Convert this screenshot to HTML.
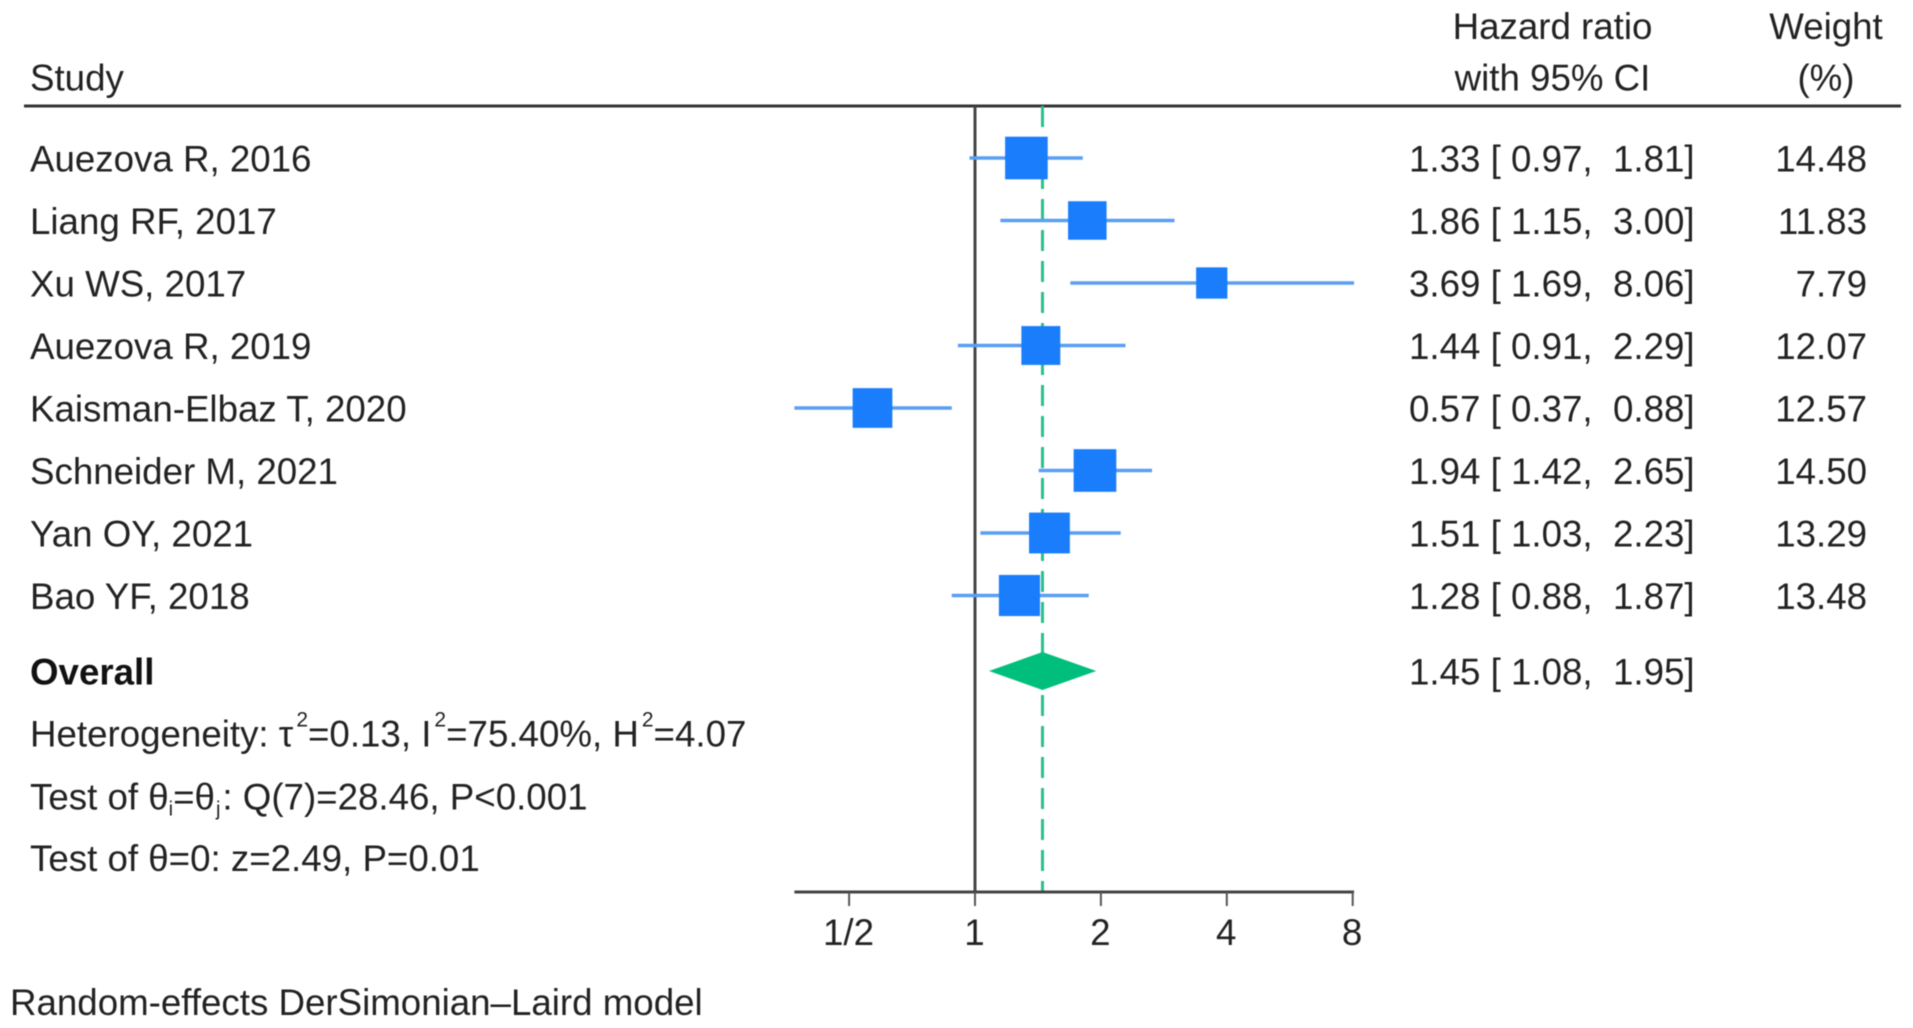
<!DOCTYPE html>
<html lang="en">
<head>
<meta charset="utf-8">
<title>Forest plot of hazard ratios</title>
<style>
  html, body { margin: 0; padding: 0; background: #fff; }
  svg { display: block; filter: blur(0.55px); }
  text { font-family: "Liberation Sans", sans-serif; font-size: 36.7px; fill: #222; white-space: pre; }
</style>
</head>
<body>
<svg id="plot" xmlns="http://www.w3.org/2000/svg" width="1913" height="1028" viewBox="0 0 1913 1028">
  <rect x="0" y="0" width="1913" height="1028" fill="#ffffff"/>
  <text x="30" y="90.5">Study</text>
  <text x="1552.5" y="39" text-anchor="middle">Hazard ratio</text>
  <text x="1552.5" y="90.5" text-anchor="middle">with 95% CI</text>
  <text x="1826" y="39" text-anchor="middle">Weight</text>
  <text x="1826" y="90.5" text-anchor="middle">(%)</text>
  <line x1="24" x2="1901" y1="106" y2="106" stroke="#333" stroke-width="3"/>
  <text x="30" y="684.5" font-weight="700" style="font-weight:700;fill:#111">Overall</text>
  <text x="30" y="746.5">Heterogeneity: τ<tspan font-size="21" dx="3" dy="-20">2</tspan><tspan dy="20">=0.13, I</tspan><tspan font-size="21" dx="3" dy="-20">2</tspan><tspan dy="20">=75.40%, H</tspan><tspan font-size="21" dx="3" dy="-20">2</tspan><tspan dy="20">=4.07</tspan></text>
  <text x="30" y="809.5">Test of θ<tspan font-size="20" dy="6">i</tspan><tspan dy="-6">=θ</tspan><tspan font-size="20" dy="6" dx="1">j</tspan><tspan dy="-6" dx="2">: Q(7)=28.46, P&lt;0.001</tspan></text>
  <text x="30" y="871">Test of θ=0: z=2.49, P=0.01</text>
  <text x="10" y="1015">Random-effects DerSimonian–Laird model</text>
  <g id="marks"></g>
</svg>
<script>
const studies = ["Auezova R, 2016", "Liang RF, 2017", "Xu WS, 2017", "Auezova R, 2019", "Kaisman-Elbaz T, 2020", "Schneider M, 2021", "Yan OY, 2021", "Bao YF, 2018"];
const hazardRatios = [1.33, 1.86, 3.69, 1.44, 0.57, 1.94, 1.51, 1.28];
const ciLower = [0.97, 1.15, 1.69, 0.91, 0.37, 1.42, 1.03, 0.88];
const ciUpper = [1.81, 3.00, 8.06, 2.29, 0.88, 2.65, 2.23, 1.87];
const weights = [14.48, 11.83, 7.79, 12.07, 12.57, 14.50, 13.29, 13.48];
const overallEstimate = [1.45];
const overallLower = [1.08];
const overallUpper = [1.95];
const tickValues = [0.5, 1, 2, 4, 8];
const tickLabels = ["1/2", "1", "2", "4", "8"];

const SVG_NS = "http://www.w3.org/2000/svg";
const marks = document.getElementById("marks");
const xScale = v => 975 + Math.log2(v) * 125.9;
const rowY = i => 158 + i * 62.5;
const overallY = 671;
const plotTop = 106;
const axisY = 892;

function make(tag, attrs, text) {
  const node = document.createElementNS(SVG_NS, tag);
  for (const k in attrs) node.setAttribute(k, attrs[k]);
  if (text !== undefined) node.textContent = text;
  marks.appendChild(node);
  return node;
}
const fmt = (v, d) => v.toFixed(d);
const hrText = (e, l, u) => fmt(e, 2) + " [ " + fmt(l, 2) + ",  " + fmt(u, 2) + "]";

const nullLine = make("line", { x1: xScale(1), x2: xScale(1), y1: plotTop, y2: axisY, stroke: "#444", "stroke-width": 3 });



const overallLine = make("line", { x1: xScale(overallEstimate[0]), x2: xScale(overallEstimate[0]), y1: plotTop, y2: axisY, stroke: "#2cbf8a", "stroke-width": 3, "stroke-dasharray": "21 10" });



studies.forEach((name, i) => {
  const y = rowY(i);
  const label = make("text", { x: 30, y: y + 13.7 }, name);
  
  

  const ci = make("line", { x1: xScale(ciLower[i]), x2: xScale(ciUpper[i]), y1: y, y2: y, stroke: "#5a9ff2", "stroke-width": 3.6 });
  
  

  const size = Math.sqrt(weights[i]) * 11.2;
  const box = make("rect", { x: xScale(hazardRatios[i]) - size / 2 - 0.4, y: y - size / 2, width: size, height: size, fill: "#1a7dfb" });
  
  

  const hr = make("text", { x: 1409, y: y + 13.7 }, hrText(hazardRatios[i], ciLower[i], ciUpper[i]));
  
  

  const wt = make("text", { x: 1867, y: y + 13.7, "text-anchor": "end" }, fmt(weights[i], 2));
  
  
});

const diamondPoints = [
  [xScale(overallLower[0]), overallY],
  [xScale(overallEstimate[0]), overallY - 19],
  [xScale(overallUpper[0]), overallY],
  [xScale(overallEstimate[0]), overallY + 19]
].map(p => p.join(",")).join(" ");
const diamond = make("polygon", { points: diamondPoints, fill: "#00bf7c" });



const overallText = make("text", { x: 1409, y: overallY + 13.7 }, hrText(overallEstimate[0], overallLower[0], overallUpper[0]));



const axisLine = make("line", { x1: xScale(Math.min(...ciLower)), x2: xScale(Math.max(...ciUpper)), y1: axisY, y2: axisY, stroke: "#444", "stroke-width": 3 });



tickValues.forEach((v, i) => {
  const tick = make("line", { x1: xScale(v), x2: xScale(v), y1: axisY, y2: axisY + 14, stroke: "#555", "stroke-width": 2 });
  
  

  const tickText = make("text", { x: xScale(v) - 0.6, y: 945, "text-anchor": "middle" }, tickLabels[i]);
  
  
});
</script>
</body>
</html>
